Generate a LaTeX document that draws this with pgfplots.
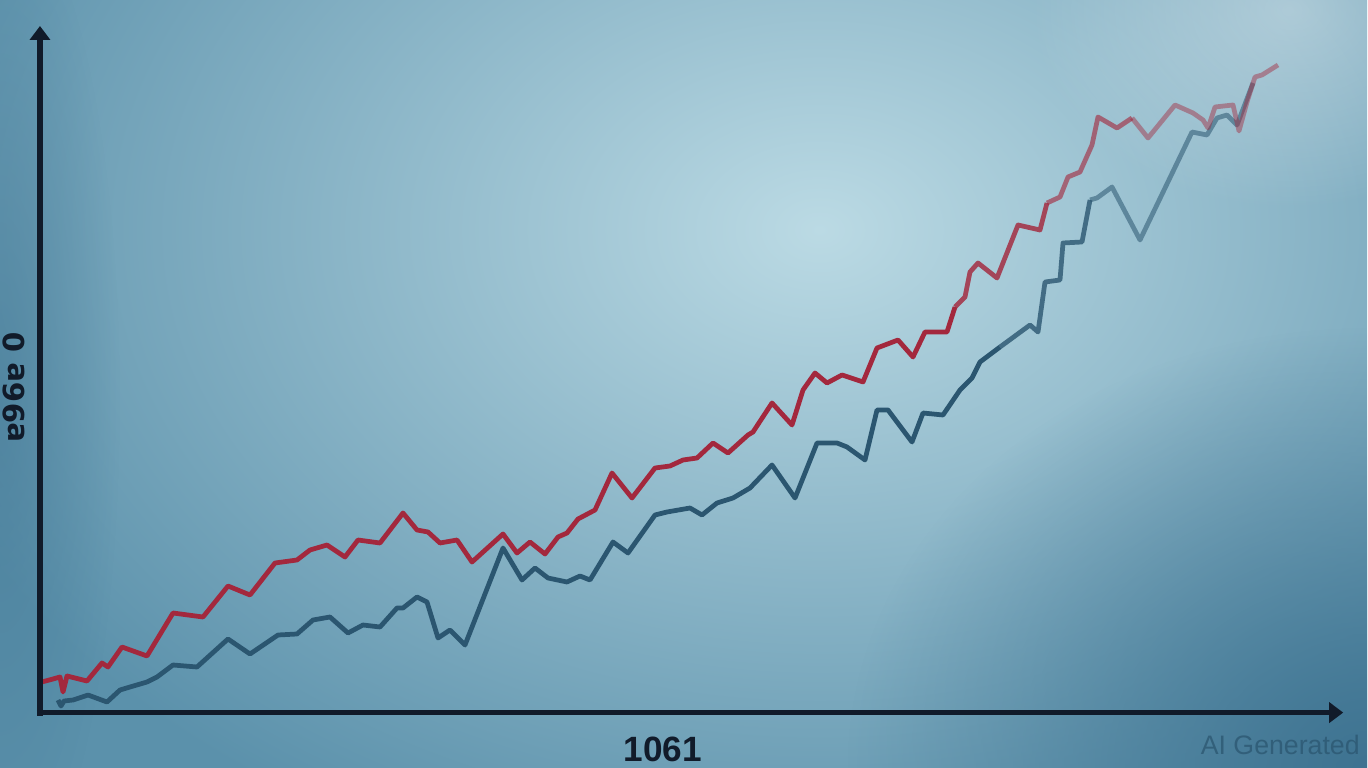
\documentclass[border=0pt]{standalone}
\usepackage{pgfplots}
\pgfplotsset{compat=1.18}
\usepackage{fontspec}
\setmainfont{Liberation Sans}
\newfontfamily\dejavu{DejaVu Sans}
\usetikzlibrary{fadings,arrows.meta}
\definecolor{bgA}{HTML}{5B91AB}
\definecolor{bgL}{HTML}{BBDAE4}
\definecolor{bgD}{HTML}{3E7391}
\definecolor{axcol}{HTML}{111B2A}
\definecolor{redl}{HTML}{A3283D}
\definecolor{bluel}{HTML}{2B5670}
\tikzfading[name=fadeout, inner color=transparent!0, outer color=transparent!100]

\pgfplotstableread{
x y
38 683
53 679
60 677
63 692
67 676
87 681
102 663
108 667
122 647
147 656
173 613
203 617
228 586
250 595
275 563
297 560
310 550
327 545
345 557
358 540
380 543
403 513
417 530
428 532
440 543
457 540
472 562
503 534
517 553
530 542
545 554
558 537
567 533
578 519
595 510
612 473
632 498
655 468
670 466
683 460
697 458
713 443
728 453
748 435
753 432
772 403
792 425
803 390
815 373
827 383
842 375
863 382
877 348
898 340
913 357
925 332
947 332
955 307
}\redA
\pgfplotstableread{
x y
955 307
965 297
970 272
978 263
997 278
1018 225
1040 230
1047 203
}\redB
\pgfplotstableread{
x y
1047 203
1060 197
1068 177
1080 172
1092 145
1098 117
1117 128
1132 118
}\redC
\pgfplotstableread{
x y
1132 118
1148 138
1175 105
1193 113
1203 120
1208 128
1215 107
1233 105
1239 131
1247 102
1255 77
1262 75
1278 65
}\redD
\pgfplotstableread{
x y
58 700
61 706
64 701
73 700
88 695
107 702
120 690
130 687
147 682
157 677
173 665
197 667
228 639
250 654
278 635
297 634
313 620
330 617
348 633
363 625
380 627
397 608
403 608
417 597
427 602
438 638
450 630
465 645
503 548
522 580
535 568
548 578
567 582
580 576
590 580
613 542
628 553
655 515
667 512
690 508
702 515
717 503
733 498
750 488
772 465
795 498
817 443
837 443
847 447
865 460
877 410
888 410
912 442
923 413
943 415
960 390
972 378
980 362
1000 347
}\blueA
\pgfplotstableread{
x y
1000 347
1030 325
1038 332
1045 282
1060 280
1063 243
1082 242
1090 200
}\blueB
\pgfplotstableread{
x y
1090 200
1097 198
1112 187
1140 240
1192 132
1207 135
1217 118
1227 115
1237 125
1253 83
}\blueC

\begin{document}
\begin{tikzpicture}
\useasboundingbox (0,0) rectangle (13.68cm,7.68cm);
\begin{scope}[x=0.01cm,y=-0.01cm,yshift=7.68cm]
\fill[bgA] (0,0) rectangle (1368,768);
\begin{scope}
\clip (0,0) rectangle (1368,768);
\shade[inner color=bgL, outer color=bgA] (820,230) ellipse (950 and 680);
\fill[bgD, path fading=fadeout] (1368,768) ellipse (520 and 440);
\fill[white, opacity=0.35, path fading=fadeout] (1290,10) ellipse (260 and 200);
\fill[bgD, opacity=0.5, path fading=fadeout] (0,400) ellipse (120 and 500);
\end{scope}
\end{scope}

\begin{axis}[at={(0,0)}, anchor=south west, scale only axis,
  width=13.68cm, height=7.68cm, xmin=0, xmax=1368, ymin=0, ymax=768,
  y dir=reverse, axis lines=none, clip=false]
\addplot[bluel, line width=1.35pt, line join=round] table {\blueA};
\addplot[bluel, opacity=0.8, line width=1.35pt, line join=round] table {\blueB};
\addplot[bluel, opacity=0.55, line width=1.35pt, line join=round] table {\blueC};
\addplot[redl, line width=1.35pt, line join=round] table {\redA};
\addplot[redl, opacity=0.82, line width=1.35pt, line join=round] table {\redB};
\addplot[redl, opacity=0.62, line width=1.35pt, line join=round] table {\redC};
\addplot[redl, opacity=0.45, line width=1.35pt, line join=round] table {\redD};
\end{axis}

\begin{scope}[x=0.01cm,y=-0.01cm,yshift=7.68cm]
\draw[axcol, line width=1.45pt, -{Triangle[width=0.2cm,length=0.14cm]}] (40,716) -- (40,26);
\draw[axcol, line width=1.45pt, -{Triangle[width=0.2cm,length=0.14cm]}] (37,713) -- (1344,713);
\node[text=axcol, font=\bfseries\fontsize{10}{12}\selectfont, inner sep=0pt] at (663,750) {1061};
\node[text=axcol, rotate=90, font=\dejavu\bfseries\fontsize{8.3}{10}\selectfont, inner sep=0pt] at (14,388) {ɐ96ɐ 0};
\node[text=bluel, opacity=0.75, font=\fontsize{7.6}{9}\selectfont, inner sep=0pt] at (1281,745) {AI Generated};
\end{scope}
\end{tikzpicture}
\end{document}
